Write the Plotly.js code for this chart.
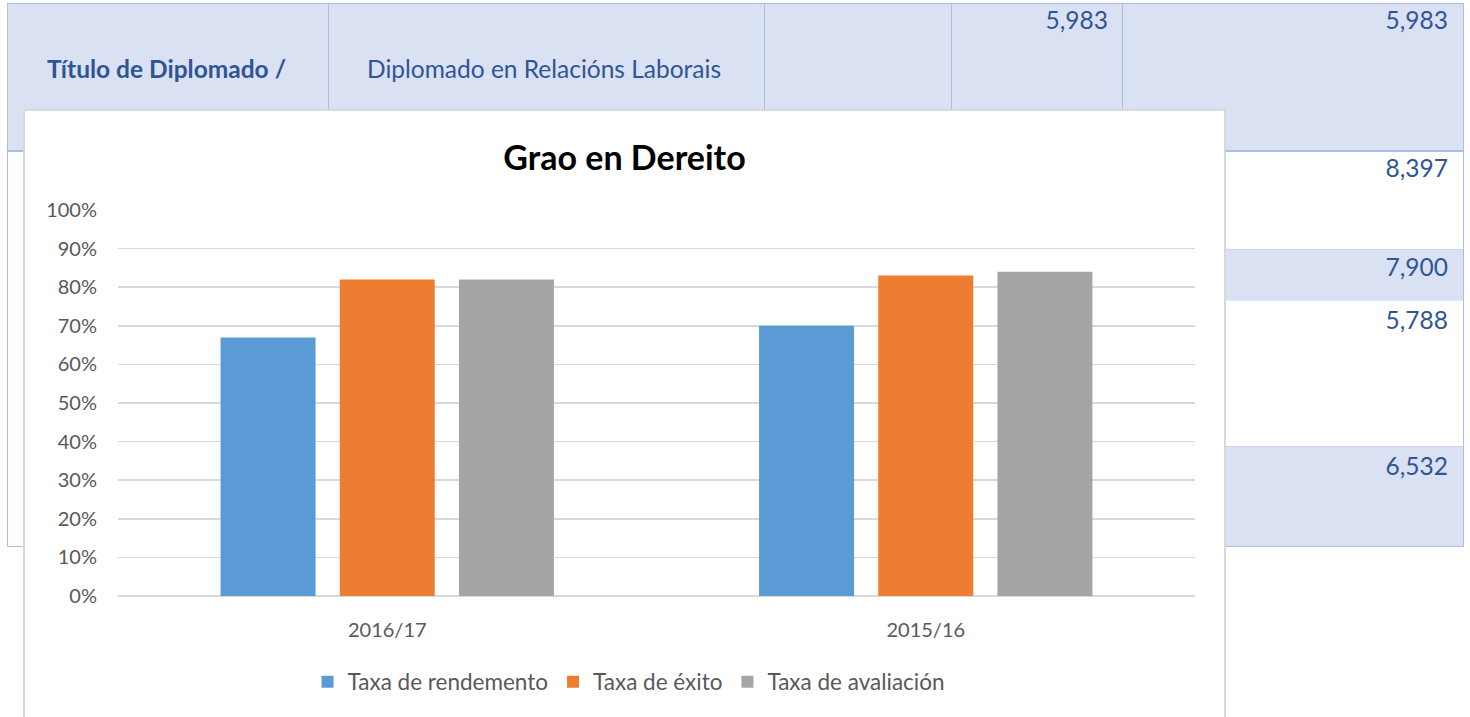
<!DOCTYPE html>
<html>
<head>
<meta charset="utf-8">
<script src="https://cdn.plot.ly/plotly-3.0.1.min.js"></script>
<style>
  html, body { margin:0; padding:0; width:1470px; height:717px; overflow:hidden; background:#fff; font-family: Lato, "Open Sans", sans-serif; }
  .cell { position:absolute; box-sizing:border-box; }
  .blue { background:#dae1f2; }
  .txt { position:absolute; color:#2f5597; font-size:24.5px; line-height:30px; white-space:nowrap; font-family: Lato, sans-serif; }
  .vline { position:absolute; width:1px; background:#a9bfe6; }
  .hline { position:absolute; height:1px; background:#a9bfe6; }
  #wrap { position:absolute; left:23px; top:109px; width:1199px; height:620px; border:2px solid #d9d9d9; background:#fff; }
  #chart { position:absolute; left:0; top:0; width:1199px; height:608px; }
</style>
</head>
<body>
<!-- background table -->
<div class="cell blue" style="left:7px; top:3px; width:1457px; height:147px;"></div>
<div class="cell blue" style="left:951px; top:249px; width:513px; height:51px;"></div>
<div class="cell blue" style="left:951px; top:446px; width:513px; height:100px;"></div>
<div class="hline" style="left:7px; top:3px; width:1457px;"></div>
<div class="hline" style="left:7px; top:150px; width:1457px; height:2px;"></div>
<div class="hline" style="left:951px; top:249px; width:513px; background:#c9d6ef;"></div>
<div class="hline" style="left:951px; top:300px; width:513px; background:#e3e9f6;"></div>
<div class="hline" style="left:951px; top:446px; width:513px; background:#c9d6ef;"></div>
<div class="hline" style="left:7px; top:546px; width:1457px;"></div>
<div class="vline" style="left:7px; top:3px; height:543px;"></div>
<div class="vline" style="left:1463px; top:3px; height:543px;"></div>
<div class="vline" style="left:328px; top:3px; height:147px;"></div>
<div class="vline" style="left:764px; top:3px; height:147px;"></div>
<div class="vline" style="left:951px; top:3px; height:147px;"></div>
<div class="vline" style="left:1122px; top:3px; height:147px;"></div>

<div class="txt" style="left:47px; top:54px; font-weight:bold;">Título de Diplomado /</div>
<div class="txt" style="left:367px; top:54px;">Diplomado en Relacións Laborais</div>
<div class="txt" style="right:362px; top:5px;">5,983</div>
<div class="txt" style="right:22px; top:5px;">5,983</div>
<div class="txt" style="right:22px; top:153px;">8,397</div>
<div class="txt" style="right:22px; top:252px;">7,900</div>
<div class="txt" style="right:22px; top:305px;">5,788</div>
<div class="txt" style="right:22px; top:451px;">6,532</div>

<div id="wrap"><div id="chart"></div></div>

<script>
const categories = ['2016/17', '2015/16'];
const seriesNames = ['Taxa de rendemento', 'Taxa de éxito', 'Taxa de avaliación'];
const taxaRendemento = [0.67, 0.70];
const taxaExito = [0.82, 0.83];
const taxaAvaliacion = [0.82, 0.84];
const seriesColors = ['#5b9bd5', '#ed7d31', '#a5a5a5'];
const yTickVals = [0, 0.1, 0.2, 0.3, 0.4, 0.5, 0.6, 0.7, 0.8, 0.9, 1.0];

const values = [taxaRendemento, taxaExito, taxaAvaliacion];
const font = 'Lato, "Open Sans", sans-serif';

const traces = values.map((v, i) => ({
  type: 'bar',
  x: categories,
  y: v,
  name: seriesNames[i],
  marker: { color: seriesColors[i], line: { width: 0 } },
  hoverinfo: 'skip'
}));

const layout = {
  width: 1199,
  height: 608,
  margin: { l: 93, r: 29, t: 99, b: 123, pad: 0 },
  paper_bgcolor: '#ffffff',
  plot_bgcolor: '#ffffff',
  barmode: 'group',
  bargap: 0.336,
  bargroupgap: 0.203,
  title: {
    text: '<b>Grao en Dereito</b>',
    font: { family: font, size: 34, color: '#000000' },
    x: 0.5, xref: 'container', xanchor: 'center',
    y: 1 - 47 / 608, yref: 'container', yanchor: 'middle'
  },
  xaxis: {
    type: 'category',
    tickfont: { family: font, size: 20, color: '#595959' },
    showgrid: false,
    showline: false,
    zeroline: false,
    ticks: '',
    ticklabelstandoff: 20
  },
  yaxis: {
    range: [0, 1],
    tickvals: yTickVals,
    tickformat: '.0%',
    tickfont: { family: font, size: 20, color: '#595959' },
    showgrid: true,
    gridcolor: '#d9d9d9',
    gridwidth: 1.5,
    zeroline: true,
    zerolinecolor: '#d9d9d9',
    zerolinewidth: 1.5,
    showline: false,
    ticks: '',
    ticklabelstandoff: 20,
    fixedrange: true
  },
  showlegend: true,
  legend: {
    orientation: 'h',
    x: 0.4745, xanchor: 'center',
    y: -0.2228, yanchor: 'middle',
    font: { family: font, size: 22.5, color: '#595959' },
    bgcolor: 'rgba(0,0,0,0)',
    traceorder: 'normal'
  },
  font: { family: font }
};

Plotly.newPlot('chart', traces, layout, { displayModeBar: false, staticPlot: true });
</script>
</body>
</html>
